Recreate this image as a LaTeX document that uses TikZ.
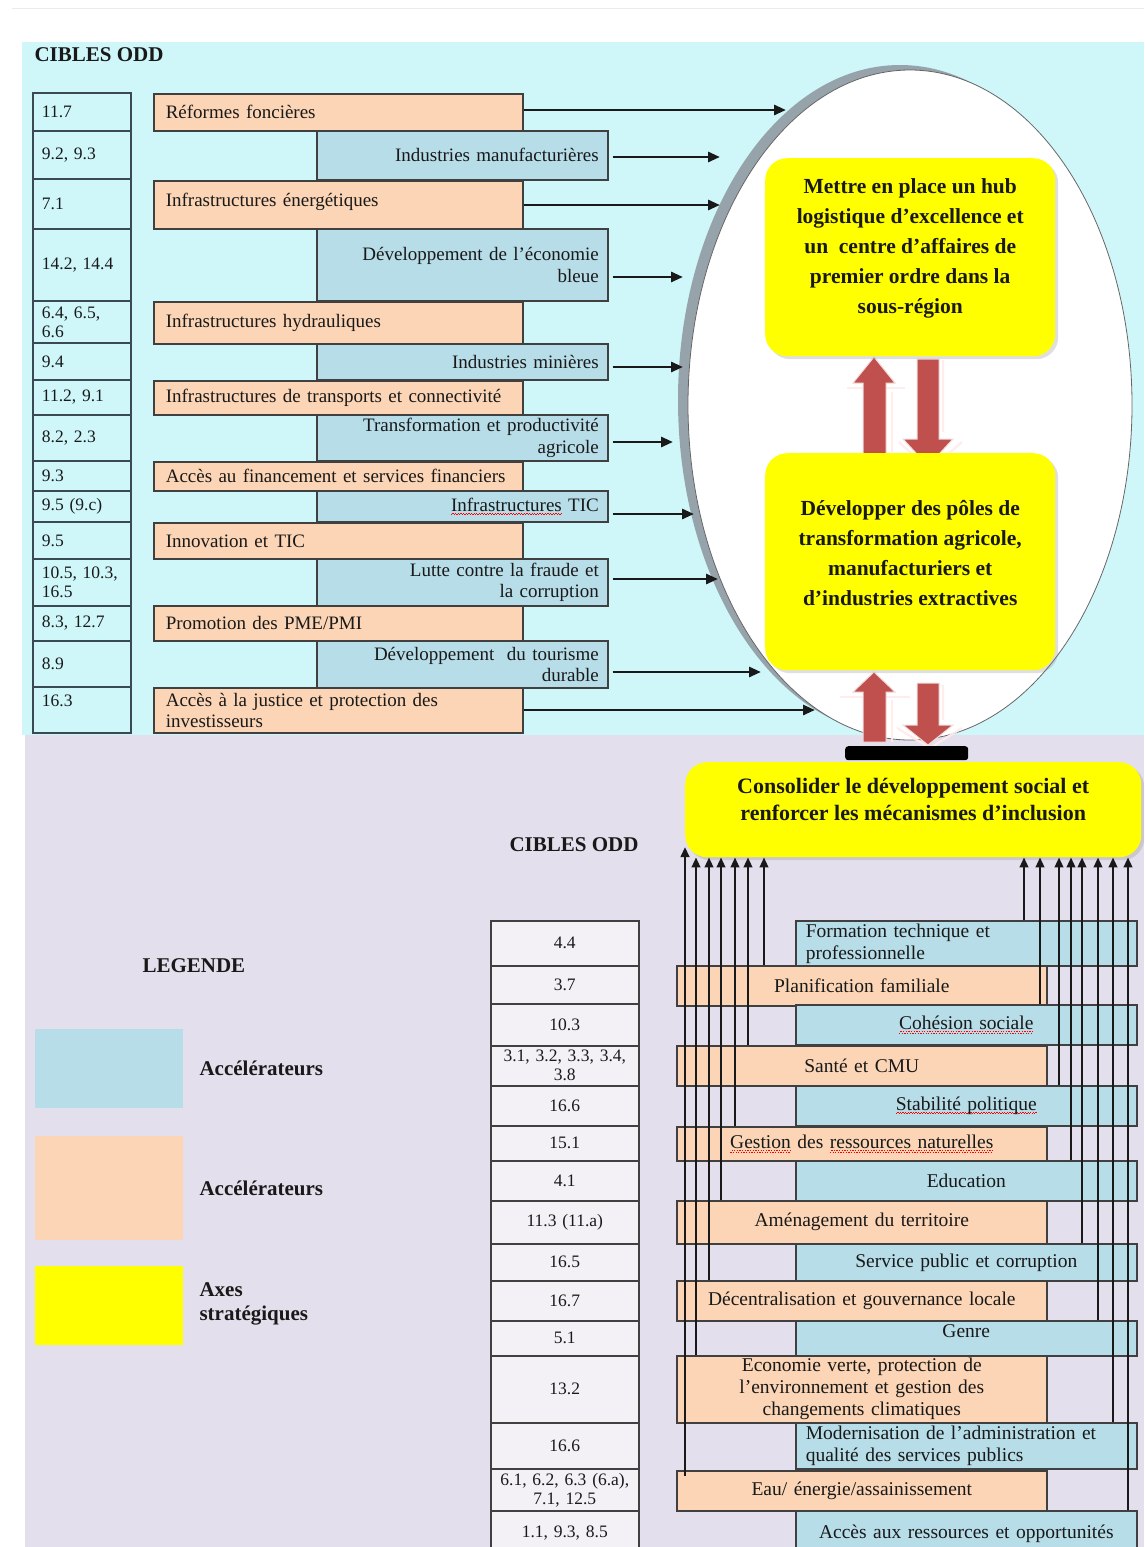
\documentclass[tikz,border=0pt]{standalone}
\usepackage{fontspec}
\setmainfont{Liberation Serif}
\usetikzlibrary{shapes.geometric,arrows.meta,shadows}
\definecolor{cyanbg}{HTML}{CFF7FA}
\definecolor{lavbg}{HTML}{E4DFEC}
\definecolor{blbox}{HTML}{B7DDE8}
\definecolor{orbox}{HTML}{FBD5B5}
\definecolor{ylw}{RGB}{255,255,0}
\definecolor{arred}{HTML}{C0504D}
\definecolor{ellgray}{HTML}{97A3AA}
\definecolor{slate}{HTML}{3A4A52}
\definecolor{bord}{HTML}{404040}
\newcommand\bxfnt{\fontsize{19.5}{22}\selectfont}
\newcommand\tbxfnt{\fontsize{19}{21.5}\selectfont}
\newcommand\nmfnt{\fontsize{17.5}{19}\selectfont}
\newcommand\ylfnt{\fontsize{21.5}{30}\selectfont\bfseries}
\newcommand\csfnt{\fontsize{22}{27}\selectfont\bfseries}
\newcommand\hdfnt{\fontsize{21}{24}\selectfont\bfseries}
\newsavebox\rwbox
\newcommand\redwave[1]{\sbox\rwbox{#1}\rlap{\textcolor{red}{\hbox to\wd\rwbox{\xleaders\hbox{\raisebox{-3.8pt}{\rule{1.3pt}{0.9pt}}\raisebox{-2.6pt}{\rule{1.3pt}{0.9pt}}}\hfil}}}#1}
\tikzset{
  cell/.style={draw=slate, line width=1.8pt, anchor=north west, inner xsep=9pt, inner ysep=0pt, text width=80pt, align=left, font=\nmfnt, text=black!90},
  obox/.style={draw=bord, line width=1.6pt, fill=orbox, anchor=north west, inner xsep=12pt, inner ysep=0pt, text width=345pt, align=left, font=\tbxfnt, text=black!90},
  bbox/.style={draw=bord, line width=1.6pt, fill=blbox, anchor=north west, inner xsep=9pt, inner ysep=0pt, text width=273pt, align=right, font=\tbxfnt, text=black!90},
  bcell/.style={draw=bord, line width=1.6pt, fill=lavbg!45!white, anchor=north west, inner xsep=9pt, inner ysep=0pt, text width=130pt, align=center, font=\nmfnt, text=black!90},
  pbox/.style={draw=bord, line width=1.6pt, fill=orbox, anchor=north west, inner xsep=10pt, inner ysep=0pt, text width=350pt, align=center, font=\bxfnt, text=black!90},
  qbox/.style={draw=bord, line width=1.6pt, fill=blbox, anchor=north west, inner xsep=10pt, inner ysep=0pt, text width=321pt, align=center, font=\bxfnt, text=black!90},
  ybox/.style={fill=ylw, rounded corners=22pt, anchor=north west, align=center, text=black!90, drop shadow={shadow xshift=3pt, shadow yshift=-3pt, opacity=0.25}},
  harr/.style={line width=2.8pt, draw=black!90, -{Triangle[length=12pt,width=10pt]}},
  varr/.style={line width=2.3pt, draw=black!90, -{Triangle[length=10pt,width=8.5pt]}},
  redarr/.style={fill=arred, draw=white!80!arred, line width=1pt},
  redglow/.style={draw=white!70!pink, line width=2.2pt, opacity=0.9},
  legtext/.style={anchor=west, align=left, font=\hdfnt, text=black!90},
}
\begin{document}
\begin{tikzpicture}[x=1pt,y=1pt]
\useasboundingbox (0,0) rectangle (1144,-1547);
\fill[white] (0,0) rectangle (1144,-1547);
\draw[black!8, line width=1pt] (12,-8) -- (1144,-8);
\fill[cyanbg] (22,-42) rectangle (1144,-735);
\fill[lavbg] (25,-735) rectangle (1144,-1547);

% ---------- ellipse ----------
\node[ellipse, fill=ellgray, minimum width=444pt, minimum height=670pt, inner sep=0pt] (ellsh) at (900,-400) {};
\node[ellipse, fill=white, draw=black!60, line width=0.8pt, minimum width=444pt, minimum height=670pt, inner sep=0pt] (ell) at (910,-405) {};

% ---------- red block arrows ----------
\draw[redglow] (847,-388) -- (905,-388) (892,-392) -- (892,-452);
\draw[redarr] (863,-457) -- (863,-383) -- (853,-383) -- (874,-357) -- (895,-383) -- (886,-383) -- (886,-457) -- cycle;
\draw[redglow] (899,-442) -- (930,-470) -- (962,-442) (943,-360) -- (943,-432);
\draw[redarr] (917,-359) -- (939,-359) -- (939,-439) -- (953,-439) -- (928,-466) -- (903,-439) -- (917,-439) -- cycle;
\draw[redglow] (840,-697) -- (910,-697) (892,-700) -- (892,-742);
\draw[redarr] (863,-742) -- (863,-692) -- (853,-692) -- (874,-672) -- (895,-692) -- (886,-692) -- (886,-742) -- cycle;
\draw[redglow] (897,-728) -- (930,-748) -- (962,-728) (943,-685) -- (943,-720);
\draw[redarr] (917,-683) -- (939,-683) -- (939,-725) -- (953,-725) -- (928,-745) -- (903,-725) -- (917,-725) -- cycle;

% ---------- strategic axes ----------
\node[ybox, minimum width=290pt, minimum height=198pt, font=\ylfnt] (ax1) at (765,-158)
  {Mettre en place un hub\\logistique d’excellence et\\un\ \ centre d’affaires de\\premier ordre dans la\\sous-région\\[-8pt]\mbox{}};
\node[ybox, minimum width=290pt, minimum height=217pt, font=\ylfnt] (ax2) at (765,-453)
  {Développer des pôles de\\transformation agricole,\\manufacturiers et\\d’industries extractives\\[-13pt]\mbox{}};
\node[fill=black, rounded corners=3pt, minimum width=123pt, minimum height=14pt, inner sep=0pt, anchor=north west] (bar) at (845,-746) {};
\node[ybox, minimum width=456pt, minimum height=95pt, font=\csfnt] (cons) at (685,-762)
  {Consolider le développement social et\\renforcer les mécanismes d’inclusion\\[-7pt]\mbox{}};

% ---------- top section ----------
\node[anchor=west, font=\hdfnt, text=black!90] (cib1) at (31,-55) {CIBLES ODD};

\node[cell, minimum height=38pt] (c1) at (32,-92) {11.7};
\node[cell, minimum height=48pt] (c2) at (32,-130) {9.2, 9.3};
\node[cell, minimum height=50pt] (c3) at (32,-178) {7.1};
\node[cell, minimum height=72pt] (c4) at (32,-228) {14.2, 14.4};
\node[cell, minimum height=42pt] (c5) at (32,-300) {6.4, 6.5,\\6.6};
\node[cell, minimum height=37pt] (c6) at (32,-342) {9.4};
\node[cell, minimum height=35pt] (c7) at (32,-379) {11.2, 9.1};
\node[cell, minimum height=46pt] (c8) at (32,-414) {8.2, 2.3};
\node[cell, minimum height=30pt] (c9) at (32,-460) {9.3};
\node[cell, minimum height=31pt] (c10) at (32,-490) {9.5 (9.c)};
\node[cell, minimum height=37pt] (c11) at (32,-521) {9.5};
\node[cell, minimum height=47pt] (c12) at (32,-558) {10.5, 10.3,\\16.5};
\node[cell, minimum height=35pt] (c13) at (32,-605) {8.3, 12.7};
\node[cell, minimum height=46pt] (c14) at (32,-640) {8.9};
\node[cell, minimum height=46pt] (c15) at (32,-686) {16.3\\\mbox{}};

\node[obox, minimum height=37pt] (o1) at (153,-93) {Réformes foncières};
\node[bbox, minimum height=49pt] (b1) at (316,-130) {Industries manufacturières};
\node[obox, minimum height=48pt] (o2) at (153,-180) {Infrastructures énergétiques\\[-12pt]\mbox{}};
\node[bbox, minimum height=72pt] (b2) at (316,-228) {Développement de l’économie\\bleue};
\node[obox, minimum height=42pt] (o3) at (153,-301) {Infrastructures hydrauliques};
\node[bbox, minimum height=36pt] (b3) at (316,-343) {Industries minières};
\node[obox, minimum height=34pt] (o4) at (153,-380) {\mbox{Infrastructures de transports et connectivité}};
\node[bbox, minimum height=46pt] (b4) at (316,-414) {Transformation et productivité\\agricole};
\node[obox, minimum height=29pt] (o5) at (153,-461) {\mbox{Accès au financement et services financiers}};
\node[bbox, minimum height=31pt] (b5) at (316,-490) {\redwave{Infrastructures} TIC};
\node[obox, minimum height=36pt] (o6) at (153,-522) {Innovation et TIC};
\node[bbox, minimum height=47pt] (b6) at (316,-558) {Lutte contre la fraude et\\la corruption};
\node[obox, minimum height=35pt] (o7) at (153,-605) {Promotion des PME/PMI};
\node[bbox, minimum height=47pt] (b7) at (316,-640) {Développement\ \ du tourisme\\durable};
\node[obox, minimum height=45pt] (o8) at (153,-687) {Accès à la justice et protection des\\investisseurs};

% tips of horizontal arrows
\coordinate (t1) at (786,-110);
\coordinate (t2) at (720,-157);
\coordinate (t3) at (720,-205);
\coordinate (t4) at (683,-277);
\coordinate (t5) at (683,-367);
\coordinate (t6) at (673,-442);
\coordinate (t7) at (694,-514);
\coordinate (t8) at (718,-579);
\coordinate (t9) at (761,-672);
\coordinate (t10) at (815,-710);
\draw[harr] (o1.east |- t1) -- (t1);
\draw[harr] ([xshift=4pt]b1.east |- t2) -- (t2);
\draw[harr] (o2.east |- t3) -- (t3);
\draw[harr] ([xshift=4pt]b2.east |- t4) -- (t4);
\draw[harr] ([xshift=4pt]b3.east |- t5) -- (t5);
\draw[harr] ([xshift=4pt]b4.east |- t6) -- (t6);
\draw[harr] ([xshift=4pt]b5.east |- t7) -- (t7);
\draw[harr] ([xshift=4pt]b6.east |- t8) -- (t8);
\draw[harr] ([xshift=4pt]b7.east |- t9) -- (t9);
\draw[harr] (o8.east |- t10) -- (t10);

% ---------- bottom section ----------
\node[anchor=west, font=\hdfnt, text=black!90] (cib2) at (506,-845) {CIBLES ODD};
\node[anchor=west, font=\hdfnt, text=black!90] (leg) at (139,-966) {LEGENDE};
\node[fill=blbox, minimum width=148pt, minimum height=79pt, inner sep=0pt, anchor=north west] (lg1) at (35,-1029) {};
\node[fill=orbox, minimum width=148pt, minimum height=104pt, inner sep=0pt, anchor=north west] (lg2) at (35,-1136) {};
\node[fill=ylw, minimum width=148pt, minimum height=79pt, inner sep=0pt, anchor=north west] (lg3) at (35,-1266) {};
\node[legtext] (lt1) at (196,-1068) {Accélérateurs};
\node[legtext] (lt2) at (196,-1188) {Accélérateurs};
\node[legtext] (lt3) at (196,-1304) {Axes\\stratégiques};

\node[bcell, minimum height=45pt] (r1) at (490,-920) {4.4};
\node[bcell, minimum height=38pt] (r2) at (490,-965) {3.7};
\node[bcell, minimum height=42pt] (r3) at (490,-1003) {10.3};
\node[bcell, minimum height=40pt] (r4) at (490,-1045) {3.1, 3.2, 3.3, 3.4,\\3.8};
\node[bcell, minimum height=40pt] (r5) at (490,-1085) {16.6};
\node[bcell, minimum height=35pt] (r6) at (490,-1125) {15.1};
\node[bcell, minimum height=40pt] (r7) at (490,-1160) {4.1};
\node[bcell, minimum height=43pt] (r8) at (490,-1200) {11.3 (11.a)};
\node[bcell, minimum height=37pt] (r9) at (490,-1243) {16.5};
\node[bcell, minimum height=40pt] (r10) at (490,-1280) {16.7};
\node[bcell, minimum height=35pt] (r11) at (490,-1320) {5.1};
\node[bcell, minimum height=67pt] (r12) at (490,-1355) {13.2};
\node[bcell, minimum height=46pt] (r13) at (490,-1422) {16.6};
\node[bcell, minimum height=42pt] (r14) at (490,-1468) {6.1, 6.2, 6.3 (6.a),\\7.1, 12.5};
\node[bcell, minimum height=45pt] (r15) at (490,-1510) {1.1, 9.3, 8.5};

\node[qbox, minimum height=45pt, align=left] (q1) at (795,-920) {Formation technique et\\professionnelle};
\node[pbox, minimum height=40pt] (p1) at (676,-965) {Planification familiale};
\node[qbox, minimum height=40pt] (q2) at (795,-1004) {\redwave{Cohésion sociale}};
\node[pbox, minimum height=40pt] (p2) at (676,-1045) {Santé et CMU};
\node[qbox, minimum height=40pt] (q3) at (795,-1085) {\redwave{Stabilité politique}};
\node[pbox, minimum height=34pt] (p3) at (676,-1126) {\redwave{Gestion} des \redwave{ressources naturelles}};
\node[qbox, minimum height=40pt] (q4) at (795,-1160) {Education};
\node[pbox, minimum height=43pt] (p4) at (676,-1200) {Aménagement du territoire};
\node[qbox, minimum height=37pt] (q5) at (795,-1243) {Service public et corruption};
\node[pbox, minimum height=40pt] (p5) at (676,-1280) {Décentralisation et gouvernance locale};
\node[qbox, minimum height=35pt] (q6) at (795,-1320) {Genre\\[-8pt]\mbox{}};
\node[pbox, minimum height=67pt] (p6) at (676,-1355) {Economie verte, protection de\\l’environnement et gestion des\\changements climatiques};
\node[qbox, minimum height=46pt, align=left] (q7) at (795,-1422) {Modernisation de l’administration et\\qualité des services publics};
\node[pbox, minimum height=40pt] (p7) at (676,-1470) {Eau/ énergie/assainissement};
\node[qbox, minimum height=45pt] (q8) at (795,-1510) {Accès aux ressources et opportunités};

% vertical arrow columns
\coordinate (xa1) at (764,0);
\coordinate (xa2) at (748,0);
\coordinate (xa3) at (735,0);
\coordinate (xa4) at (721,0);
\coordinate (xa5) at (709,0);
\coordinate (xa6) at (696,0);
\coordinate (xa7) at (685,0);
\coordinate (xb1) at (1024,0);
\coordinate (xb2) at (1040,0);
\coordinate (xb3) at (1059,0);
\coordinate (xb4) at (1071,0);
\coordinate (xb5) at (1082,0);
\coordinate (xb6) at (1098,0);
\coordinate (xb7) at (1113,0);
\coordinate (xb8) at (1128,0);
\coordinate (top7) at (685,-847);

\draw[varr] (p1.north -| xa1) -- (cons.south -| xa1);
\draw[varr] (p2.north -| xa2) -- (cons.south -| xa2);
\draw[varr] (p3.north -| xa3) -- (cons.south -| xa3);
\draw[varr] (p4.north -| xa4) -- (cons.south -| xa4);
\draw[varr] (p5.north -| xa5) -- (cons.south -| xa5);
\draw[varr] (p6.north -| xa6) -- (cons.south -| xa6);
\draw[varr] ([yshift=-6pt]p7.north -| xa7) -- (top7);

\draw[varr] (q1.north -| xb1) -- (cons.south -| xb1);
\draw[varr] (q2.north -| xb2) -- (cons.south -| xb2);
\draw[varr] (q3.north -| xb3) -- (cons.south -| xb3);
\draw[varr] (q4.north -| xb4) -- (cons.south -| xb4);
\draw[varr] (q5.north -| xb5) -- (cons.south -| xb5);
\draw[varr] (q6.north -| xb6) -- (cons.south -| xb6);
\draw[varr] (q7.north -| xb7) -- (cons.south -| xb7);
\draw[varr] (q8.north -| xb8) -- (cons.south -| xb8);
\end{tikzpicture}
\end{document}
